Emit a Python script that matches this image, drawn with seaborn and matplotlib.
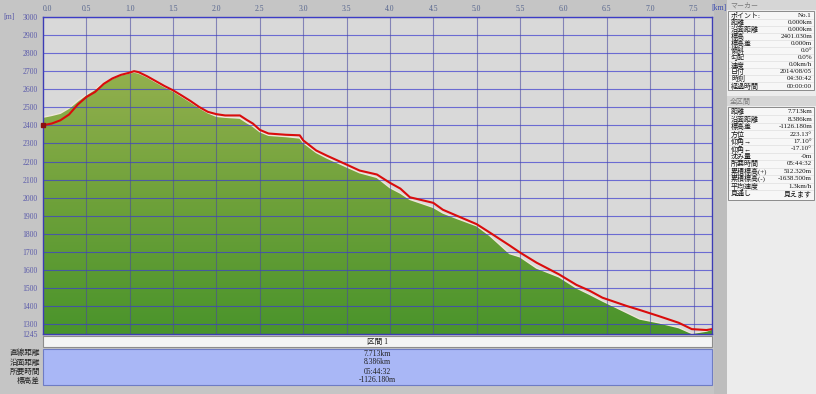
import numpy as np
import pandas as pd
import matplotlib
matplotlib.use("Agg")
import matplotlib.pyplot as plt
import seaborn as sns
from matplotlib.patches import Rectangle
from matplotlib.colors import LinearSegmentedColormap

# ---------------- data ----------------
dist_km = [0.00, 0.10, 0.20, 0.30, 0.40, 0.50, 0.60, 0.70, 0.80, 0.90,
           1.00, 1.05, 1.10, 1.20, 1.30, 1.40, 1.50, 1.60, 1.70, 1.80,
           1.90, 2.00, 2.10, 2.27, 2.35, 2.42, 2.50, 2.60, 2.80, 2.96,
           3.00, 3.15, 3.27, 3.50, 3.65, 3.85, 4.00, 4.12, 4.23, 4.50,
           4.61, 4.77, 5.00, 5.15, 5.38, 5.50, 5.69, 5.95, 6.15, 6.30,
           6.45, 6.73, 6.88, 7.10, 7.33, 7.48, 7.65, 7.713]
track_elev = [2401, 2410, 2428, 2460, 2515, 2557, 2585, 2630, 2660, 2680,
              2692, 2700, 2695, 2672, 2645, 2618, 2594, 2565, 2535, 2502,
              2475, 2462, 2455, 2455, 2430, 2410, 2375, 2355, 2348, 2345,
              2317, 2261, 2233, 2183, 2150, 2128, 2082, 2050, 2002, 1971,
              1933, 1900, 1853, 1807, 1735, 1696, 1640, 1575, 1517, 1485,
              1446, 1400, 1378, 1344, 1307, 1272, 1267, 1272]
terrain_elev = [2445, 2455, 2467, 2495, 2535, 2570, 2600, 2635, 2660, 2680,
                2690, 2695, 2690, 2668, 2640, 2614, 2590, 2560, 2530, 2498,
                2470, 2450, 2445, 2440, 2415, 2395, 2365, 2345, 2338, 2330,
                2305, 2250, 2220, 2170, 2138, 2112, 2055, 2025, 1990, 1946,
                1915, 1885, 1844, 1790, 1690, 1672, 1610, 1561, 1500, 1465,
                1428, 1363, 1328, 1307, 1280, 1248, 1261, 1272]

x_ticks = [0.0, 0.5, 1.0, 1.5, 2.0, 2.5, 3.0, 3.5, 4.0, 4.5, 5.0, 5.5, 6.0, 6.5, 7.0, 7.5]
x_tick_labels = ["0.0", "0.5", "1.0", "1.5", "2.0", "2.5", "3.0", "3.5",
                 "4.0", "4.5", "5.0", "5.5", "6.0", "6.5", "7.0", "7.5"]
y_grid = [1300, 1400, 1500, 1600, 1700, 1800, 1900, 2000, 2100, 2200,
          2300, 2400, 2500, 2600, 2700, 2800, 2900, 3000]
y_ticks = [1245] + y_grid
x_max = 7.713
y_min, y_max = 1245, 3000

section_title = "区間 1"
summary_labels = ["直線距離", "沿面距離", "所要時間", "標高差"]
summary_values = ["7.713km", "8.386km", "05:44:32", "-1126.180m"]

marker_title = "マーカー"
marker_labels = ["ポイント:", "距離", "沿面距離", "標高", "標高差", "傾斜", "勾配",
                 "速度", "日付", "時刻", "経過時間"]
marker_values = ["No.1", "0.000km", "0.000km", "2401.030m", "0.000m", "0.0°",
                 "0.0%", "0.0km/h", "2014/08/05", "04:30:42", "00:00:00"]
total_title = "全区間"
total_labels = ["距離", "沿面距離", "標高差", "方位", "仰角→", "仰角←", "沈み量",
                "所要時間", "累積標高(+)", "累積標高(-)", "平均速度", "見通し"]
total_values = ["7.713km", "8.386km", "-1126.180m", "223.13°", "17.10°", "-17.10°",
                "-0m", "05:44:32", "512.320m", "-1638.500m", "1.3km/h", "見えます"]

df = pd.DataFrame({"dist": dist_km, "track": track_elev, "terrain": terrain_elev})

# ---------------- style ----------------
sns.set_style("white")
FONT = ['Liberation Serif', 'Noto Sans CJK JP', 'DejaVu Sans']
plt.rcParams['font.family'] = FONT

W, H = 816, 394
fig = plt.figure(figsize=(W / 100, H / 100), dpi=100)
fig.patch.set_facecolor('#c5c5c5')


def px_axes(l, t, r, b):
    return [l / W, 1 - b / H, (r - l) / W, (b - t) / H]


# background axes in pixel coordinates
bg = fig.add_axes([0, 0, 1, 1], zorder=-1)
bg.set_xlim(0, W)
bg.set_ylim(H, 0)
bg.axis('off')

# ---------------- main profile axes ----------------
ax = fig.add_axes(px_axes(43, 17, 712, 334))
ax.set_facecolor('#d9d9d9')

poly = ax.fill_between(df["dist"], df["terrain"], y_min, color='none', lw=0)
grad = np.linspace(0, 1, 256).reshape(-1, 1)
cmap = LinearSegmentedColormap.from_list('terrain_g', ['#4a942b', '#6ea13a', '#93b04e'])
im = ax.imshow(grad, extent=[0, x_max, y_min, 2710], origin='lower', cmap=cmap,
               aspect='auto', zorder=1, interpolation='bilinear')
im.set_clip_path(poly.get_paths()[0], transform=ax.transData)

# light rim on terrain
ax.plot(df["dist"], df["terrain"], color='#efe6da', lw=1.0, zorder=2)

# grid
for gy in y_grid:
    ax.axhline(gy, color='#3c3cd0', alpha=0.7, lw=0.8, zorder=3)
for gx in x_ticks[1:]:
    ax.axvline(gx, color='#4a4aa0', alpha=0.6, lw=0.8, zorder=3)

sns.lineplot(data=df, x="dist", y="track", ax=ax, color='#da0c0c', lw=1.5,
             zorder=4, sort=False)
ax.plot([0], [track_elev[0]], marker='s', ms=3, color='#8a1010', zorder=5, clip_on=False)

ax.set_xlim(0, x_max)
ax.set_ylim(y_min, y_max)
ax.set_xlabel("")
ax.set_ylabel("")
ax.set_xticks(x_ticks)
ax.set_xticklabels(x_tick_labels)
ax.set_yticks(y_ticks)
ax.set_yticklabels([str(v) for v in y_ticks])
ax.xaxis.tick_top()
ax.tick_params(axis='x', top=True, bottom=False, labeltop=True, labelbottom=False,
               length=0, pad=3, labelsize=5.5, labelcolor='#56658e')
ax.tick_params(axis='y', length=0, pad=4, labelsize=5.5, labelcolor='#5a5aaa')
ax.get_xticklabels()[0].set_horizontalalignment('left')
for s in ax.spines.values():
    s.set_color('#3c3cb4')
    s.set_linewidth(1.0)

# units
bg.text(9, 17, "[m]", ha='center', va='center', fontsize=5.5, color='#5a5aaa')
bg.text(711, 8, "[km]", ha='left', va='center', fontsize=5.5, color='#3c4cb0')

# ---------------- lower summary ----------------
bg.add_patch(Rectangle((43, 336), 669, 11, facecolor='#f4f4f4', edgecolor='#8c8c8c', lw=0.8))
bg.text(377.5, 341.5, section_title, ha='center', va='center', fontsize=5.5, color='#202020')
bg.add_patch(Rectangle((43, 349), 669, 36, facecolor='#a9b7f6', edgecolor='#6e7cc4', lw=0.8))
for i, (lab, val) in enumerate(zip(summary_labels, summary_values)):
    yy = 353.5 + i * 9
    bg.text(40, yy, lab, ha='right', va='center', fontsize=5.5, color='#202020')
    bg.text(377.5, yy, val, ha='center', va='center', fontsize=5.5, color='#202020')

# ---------------- right panel ----------------
bg.add_patch(Rectangle((714, 0), 13, H, facecolor='#bdbdbd', edgecolor='none', zorder=0))
bg.add_patch(Rectangle((727, 0), W - 727, H, facecolor='#ececec', edgecolor='none', zorder=0))
bg.add_patch(Rectangle((727, 0), W - 727, 10, facecolor='#d6d6d6', edgecolor='none', zorder=1))
bg.text(730, 5, marker_title, ha='left', va='center', fontsize=5.0, color='#7a7a7a', zorder=3)
bg.add_patch(Rectangle((728, 11), 86, 79, facecolor='#f7f7f7', edgecolor='#8a8a8a', lw=0.7, zorder=1))
for i, (lab, val) in enumerate(zip(marker_labels, marker_values)):
    yy = 15 + i * 7.1
    bg.text(731, yy, lab, ha='left', va='center', fontsize=5.0, color='#111111', zorder=3)
    bg.text(812, yy, val, ha='right', va='center', fontsize=5.0, color='#111111', zorder=3)
    if i > 0:
        bg.plot([729, 813], [yy - 3.55, yy - 3.55], color='#e0e0e0', lw=0.5, zorder=2)

bg.add_patch(Rectangle((727, 96), W - 727, 10, facecolor='#d6d6d6', edgecolor='none', zorder=1))
bg.text(730, 101, total_title, ha='left', va='center', fontsize=5.0, color='#7a7a7a', zorder=3)
bg.add_patch(Rectangle((728, 107), 86, 93, facecolor='#f7f7f7', edgecolor='#8a8a8a', lw=0.7, zorder=1))
for i, (lab, val) in enumerate(zip(total_labels, total_values)):
    yy = 111.7 + i * 7.45
    bg.text(731, yy, lab, ha='left', va='center', fontsize=5.0, color='#111111', zorder=3)
    bg.text(812, yy, val, ha='right', va='center', fontsize=5.0, color='#111111', zorder=3)
    if i > 0:
        bg.plot([729, 813], [yy - 3.7, yy - 3.7], color='#e0e0e0', lw=0.5, zorder=2)

fig.savefig("out.png", dpi=100, facecolor=fig.get_facecolor())
